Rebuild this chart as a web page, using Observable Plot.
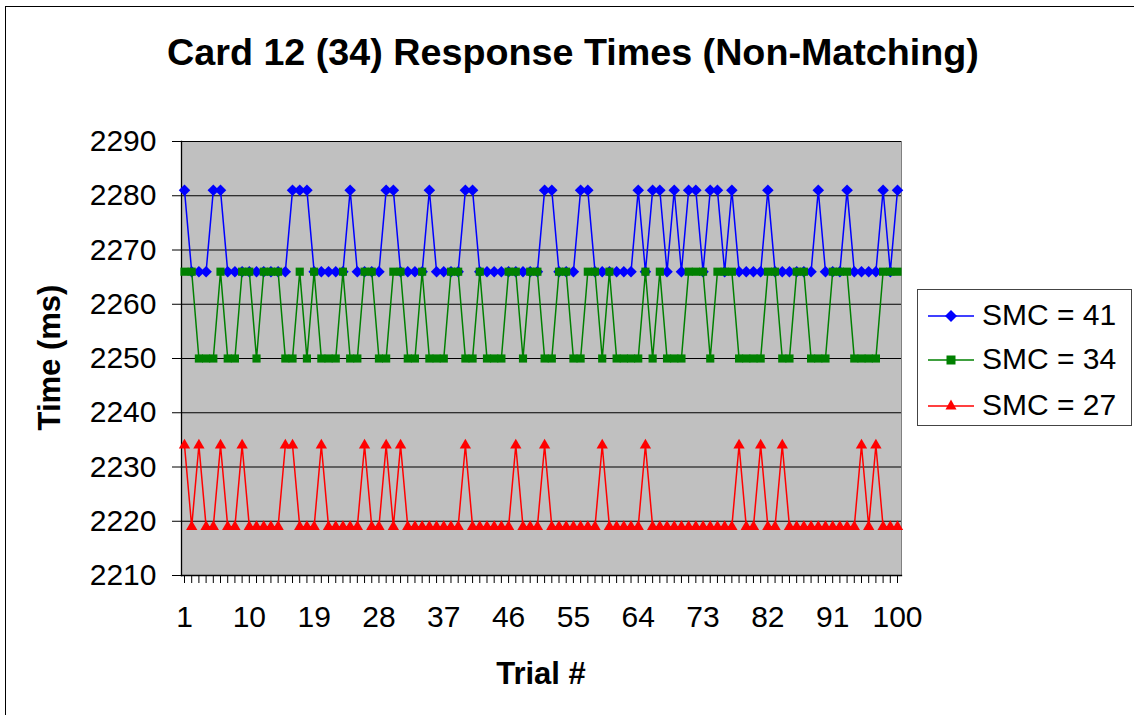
<!DOCTYPE html>
<html>
<head>
<meta charset="utf-8">
<script src="https://cdn.jsdelivr.net/npm/d3@7"></script>
<script src="https://cdn.jsdelivr.net/npm/@observablehq/plot@0.6"></script>
<style>
  html, body { margin: 0; padding: 0; background: #fff; }
  #wrap { position: relative; width: 1134px; height: 715px; overflow: hidden; font-family: "Liberation Sans", Arial, sans-serif; }
  #chart { position: absolute; left: 0; top: 0; }
  #border { position: absolute; left: 5px; top: 6px; width: 1300px; height: 900px; border: 1.5px solid #000; pointer-events: none; }
  .title { position: absolute; left: 0; width: 1146px; top: 34px; text-align: center; font-weight: bold; font-size: 37.7px; line-height: 1; white-space: nowrap; }
  .xlab { position: absolute; left: 441px; width: 200px; top: 658px; text-align: center; font-weight: bold; font-size: 31px; line-height: 1; }
  .ylab { position: absolute; left: -51px; width: 200px; top: 342px; text-align: center; font-weight: bold; font-size: 31px; line-height: 1; transform: rotate(-90deg); white-space: nowrap; }
  #legend { position: absolute; left: 917px; top: 289px; width: 213px; height: 135px; border: 1.5px solid #444; background: #fff; }
  .lrow { position: absolute; left: 0; height: 36px; width: 213px; }
  .lrow svg { position: absolute; left: 10px; top: 0; }
  .lrow span { position: absolute; left: 64px; top: 2px; font-size: 30px; line-height: 1; white-space: nowrap; }
</style>
</head>
<body>
<div id="wrap">
  <div id="chart"></div>
  <div class="title">Card 12 (34) Response Times (Non-Matching)</div>
  <div class="ylab">Time (ms)</div>
  <div class="xlab">Trial #</div>
  <div id="legend"></div>
  <div id="border"></div>
</div>
<script>
// ---- data ----
const trials = [1,2,3,4,5,6,7,8,9,10,11,12,13,14,15,16,17,18,19,20,21,22,23,24,25,26,27,28,29,30,
  31,32,33,34,35,36,37,38,39,40,41,42,43,44,45,46,47,48,49,50,51,52,53,54,55,56,57,58,59,60,
  61,62,63,64,65,66,67,68,69,70,71,72,73,74,75,76,77,78,79,80,81,82,83,84,85,86,87,88,89,90,
  91,92,93,94,95,96,97,98,99,100];

const smc41 = [
  2281,2266,2266,2266,2281,2281,2266,2266,2266,2266,
  2266,2266,2266,2266,2266,2281,2281,2281,2266,2266,
  2266,2266,2266,2281,2266,2266,2266,2266,2281,2281,
  2266,2266,2266,2266,2281,2266,2266,2266,2266,2281,
  2281,2266,2266,2266,2266,2266,2266,2266,2266,2266,
  2281,2281,2266,2266,2266,2281,2281,2266,2266,2266,
  2266,2266,2266,2281,2266,2281,2281,2266,2281,2266,
  2281,2281,2266,2281,2281,2266,2281,2266,2266,2266,
  2266,2281,2266,2266,2266,2266,2266,2266,2281,2266,
  2266,2266,2281,2266,2266,2266,2266,2281,2266,2281];

const smc34 = [
  2266,2266,2250,2250,2250,2266,2250,2250,2266,2266,
  2250,2266,2266,2266,2250,2250,2266,2250,2266,2250,
  2250,2250,2266,2250,2250,2266,2266,2250,2250,2266,
  2266,2250,2250,2266,2250,2250,2250,2266,2266,2250,
  2250,2266,2250,2250,2250,2266,2266,2250,2266,2266,
  2250,2250,2266,2266,2250,2250,2266,2266,2250,2266,
  2250,2250,2250,2250,2266,2250,2266,2250,2250,2250,
  2266,2266,2266,2250,2266,2266,2266,2250,2250,2250,
  2250,2266,2266,2250,2250,2266,2266,2250,2250,2250,
  2266,2266,2266,2250,2250,2250,2250,2266,2266,2266];

const smc27 = [
  2234,2219,2234,2219,2219,2234,2219,2219,2234,2219,
  2219,2219,2219,2219,2234,2234,2219,2219,2219,2234,
  2219,2219,2219,2219,2219,2234,2219,2219,2234,2219,
  2234,2219,2219,2219,2219,2219,2219,2219,2219,2234,
  2219,2219,2219,2219,2219,2219,2234,2219,2219,2219,
  2234,2219,2219,2219,2219,2219,2219,2219,2234,2219,
  2219,2219,2219,2219,2234,2219,2219,2219,2219,2219,
  2219,2219,2219,2219,2219,2219,2219,2234,2219,2219,
  2234,2219,2219,2234,2219,2219,2219,2219,2219,2219,
  2219,2219,2219,2219,2234,2219,2234,2219,2219,2219];

const seriesNames = ["SMC = 41", "SMC = 34", "SMC = 27"];
const seriesColors = ["#0000ff", "#008000", "#ff0000"];
const seriesSymbols = ["diamond2", "square2", "triangle2"];
const seriesR = [5.2, 5.2, 5.4];
const yTicks = [2210, 2220, 2230, 2240, 2250, 2260, 2270, 2280, 2290];
const xLabelTicks = [1, 10, 19, 28, 37, 46, 55, 64, 73, 82, 91, 100];

// ---- build table ----
const valueArrays = [smc41, smc34, smc27];
const rows = [];
valueArrays.forEach((arr, s) => {
  trials.forEach((t, i) => rows.push({trial: t, time: arr[i], series: seriesNames[s]}));
});

const marks = [
  Plot.frame({fill: "#c0c0c0", stroke: "#808080"}),
  Plot.gridY(yTicks, {stroke: "#000", strokeOpacity: 1, strokeWidth: 1}),
  Plot.frame({anchor: "left", stroke: "#000", strokeWidth: 1.3}),
  Plot.frame({anchor: "bottom", stroke: "#000", strokeWidth: 1.3}),
  Plot.axisY({ticks: yTicks, tickSize: 9, tickPadding: 16, fontSize: 30, label: null, tickFormat: d => String(d), stroke: "#000", fill: "#000"}),
  Plot.axisX({ticks: trials, tickSize: 8, tickFormat: () => "", label: null, stroke: "#000"}),
  Plot.axisX({ticks: xLabelTicks, tickSize: 0, tickPadding: 30, fontSize: 30, label: null, tickFormat: d => String(d), fill: "#000"})
];
seriesNames.forEach((name, s) => {
  const d = rows.filter(r => r.series === name);
  marks.push(Plot.line(d, {x: "trial", y: "time", stroke: seriesColors[s], strokeWidth: 1.5}));
  marks.push(Plot.dot(d, {x: "trial", y: "time", fill: seriesColors[s], symbol: seriesSymbols[s], r: seriesR[s]}));
});

const chart = Plot.plot({
  width: 1134,
  height: 715,
  marginLeft: 181,
  marginRight: 233,
  marginTop: 141,
  marginBottom: 140,
  style: {background: "transparent", fontFamily: "Liberation Sans, Arial, sans-serif", color: "#000"},
  x: {type: "linear", domain: [1, 100], insetLeft: 3, insetRight: 4},
  y: {domain: [2210, 2290]},
  marks
});
document.getElementById("chart").appendChild(chart);

// ---- legend ----
const legend = document.getElementById("legend");
const rowTops = [8, 52, 98];
const shapes = [
  c => `<polygon points="23,${18-6} ${23+6},18 23,${18+6} ${23-6},18" fill="${c}"/>`,
  c => `<rect x="${23-4.5}" y="${18-4.5}" width="9" height="9" fill="${c}"/>`,
  c => `<polygon points="23,${18-6.5} ${23+5.5},${18+3.5} ${23-5.5},${18+3.5}" fill="${c}"/>`
];
seriesNames.forEach((name, s) => {
  const row = document.createElement("div");
  row.className = "lrow";
  row.style.top = rowTops[s] + "px";
  row.innerHTML = `<svg width="48" height="36"><line x1="0" x2="46" y1="18" y2="18" stroke="${seriesColors[s]}" stroke-width="1.5"/>${shapes[s](seriesColors[s])}</svg><span>${name}</span>`;
  legend.appendChild(row);
});
</script>
</body>
</html>
